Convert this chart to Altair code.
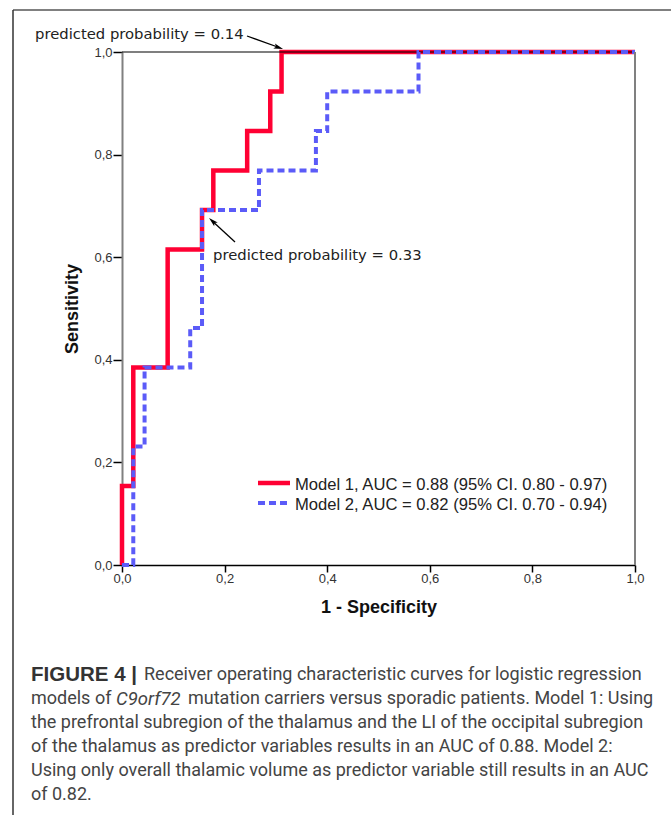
import altair as alt
import pandas as pd

# ROC points (1 - specificity, sensitivity), vertical step after each point
model1_fpr = [0.0, 0.0, 0.022, 0.089, 0.156, 0.178, 0.244, 0.289, 0.311, 1.0]
model1_tpr = [0.0, 0.154, 0.385, 0.615, 0.692, 0.769, 0.846, 0.923, 1.0, 1.0]
model2_fpr = [0.0, 0.022, 0.044, 0.133, 0.156, 0.267, 0.378, 0.400, 0.578, 1.0]
model2_tpr = [0.0, 0.231, 0.385, 0.462, 0.692, 0.769, 0.846, 0.923, 1.0, 1.0]

legend_labels = ["Model 1, AUC = 0.88 (95% CI. 0.80 - 0.97)",
                 "Model 2, AUC = 0.82 (95% CI. 0.70 - 0.94)"]
annot_labels = ["predicted probability = 0.14", "predicted probability = 0.33"]
tick_values = [0.0, 0.2, 0.4, 0.6, 0.8, 1.0]

caption_bold = "FIGURE 4 |"
caption_line1 = "Receiver operating characteristic curves for logistic regression"
caption_line2a = "models of"
caption_line2_it = "C9orf72"
caption_line2b = "mutation carriers versus sporadic patients. Model 1: Using"
caption_rest = [
    "the prefrontal subregion of the thalamus and the LI of the occipital subregion",
    "of the thalamus as predictor variables results in an AUC of 0.88. Model 2:",
    "Using only overall thalamic volume as predictor variable still results in an AUC",
    "of 0.82.",
]

RED = "#FF0033"
BLUE = "#5B5BF8"

df1 = pd.DataFrame({"fpr": model1_fpr, "tpr": model1_tpr, "i": range(len(model1_fpr))})
df2 = pd.DataFrame({"fpr": model2_fpr, "tpr": model2_tpr, "i": range(len(model2_fpr))})

label_expr = "replace(format(datum.value, '.1f'), '.', ',')"
xenc = alt.X("fpr:Q", scale=alt.Scale(domain=[0, 1], nice=False, zero=False),
             axis=alt.Axis(values=tick_values, labelExpr=label_expr, title="1 - Specificity",
                           labelFlush=False, labelOverlap=False,
                           domainColor="#000000", domainWidth=1.5, tickColor="#000000",
                           tickSize=7, tickWidth=1.5, labelPadding=0, titlePadding=13))
yenc = alt.Y("tpr:Q", scale=alt.Scale(domain=[0, 1], nice=False, zero=False),
             axis=alt.Axis(values=tick_values, labelExpr=label_expr, title="Sensitivity",
                           labelFlush=False, labelOverlap=False,
                           domainColor="#808080", domainWidth=2, tickColor="#000000",
                           tickSize=9, tickWidth=1.5, labelPadding=1, titlePadding=12))

red_line = alt.Chart(df1).mark_line(color=RED, strokeWidth=4.5, interpolate="step-after",
                                    clip=False).encode(x=xenc, y=yenc, order="i:Q")
blue_line = alt.Chart(df2).mark_line(color=BLUE, strokeWidth=4, strokeDash=[7, 4],
                                     interpolate="step-after", clip=False).encode(
    x="fpr:Q", y="tpr:Q", order="i:Q")

one = pd.DataFrame({"k": [0]})

def rule(x, y, x2=None, y2=None, color="#000", width=1.0, dash=None):
    kw = dict(color=color, strokeWidth=width)
    if dash:
        kw["strokeDash"] = dash
    enc = dict(x=alt.value(x), y=alt.value(y))
    if x2 is not None:
        enc["x2"] = alt.value(x2)
    if y2 is not None:
        enc["y2"] = alt.value(y2)
    return alt.Chart(one).mark_rule(**kw).encode(**enc)

def text(s, x, y, size, font="Liberation Sans", weight="normal", style="normal",
         color="#222222", baseline="middle"):
    return alt.Chart(pd.DataFrame({"t": [s]})).mark_text(
        align="left", baseline=baseline, fontSize=size, font=font, fontWeight=weight,
        fontStyle=style, color=color).encode(x=alt.value(x), y=alt.value(y), text="t:N")

def head(x, y, angle):
    return alt.Chart(one).mark_point(shape="M0,-1L0.55,1L0,0.55L-0.55,1Z", filled=True,
                                     size=90, color="#000000", opacity=1,
                                     angle=angle).encode(x=alt.value(x), y=alt.value(y))

frame_top = rule(0, 0, x2=513, color="#000000", width=1.2)
frame_right = rule(513, 0, y2=513, color="#808080", width=2)

# legend
leg = [
    rule(136, 431, x2=168, color=RED, width=4.5),
    rule(136, 451, x2=168, color=BLUE, width=4, dash=[7, 4]),
    text(legend_labels[0], 173, 433, 16.6),
    text(legend_labels[1], 173, 453, 16.6),
]

# annotations
ann = [
    text(annot_labels[0], -87, -17, 14.8, font="DejaVu Sans"),
    rule(125, -16, x2=157, y2=-4.5, color="#000000", width=1.3),
    head(156.6, -4.5, 109),
    text(annot_labels[1], 91, 204, 14.8, font="DejaVu Sans"),
    rule(113, 190, x2=90.5, y2=169.2, color="#000000", width=1.3),
    head(90.5, 169.2, 313),
]

# page borders
borders = [
    rule(-109, -42, x2=549, color="#808080", width=2),
    rule(-109, -42, y2=763, color="#333333", width=1.5),
]

cap_font = "Roboto"
cap_size = 18
cap_color = "#444444"
cap_y = [623, 647, 671, 695, 719, 743]
caption = [
    text(caption_bold, -91, cap_y[0], 20.5, font="Liberation Sans", weight="bold",
         color="#333333"),
    text(caption_line1, 22, cap_y[0], cap_size, font=cap_font, color=cap_color),
    text(caption_line2a, -91, cap_y[1], cap_size, font=cap_font, color=cap_color),
    text(caption_line2_it, -6, cap_y[1], cap_size + 0.5, font=cap_font, style="italic",
         color=cap_color),
    text(caption_line2b, 66, cap_y[1], cap_size, font=cap_font, color=cap_color),
]
for j, s in enumerate(caption_rest):
    caption.append(text(s, -91, cap_y[j + 2], cap_size, font=cap_font, color=cap_color))

chart = alt.layer(red_line, frame_top, blue_line, frame_right, *leg, *ann, *borders,
                  *caption).properties(
    width=513, height=513,
    autosize=alt.AutoSizeParams(type="none"),
    padding={"left": 122, "top": 52, "right": 36, "bottom": 250},
    background="white",
).configure_view(stroke=None).configure_axis(
    grid=False, labelFont="Liberation Sans", labelFontSize=13, labelColor="#333333",
    titleFont="Liberation Sans", titleFontSize=18, titleFontWeight="bold", titleColor="#111111",
)

chart.save("out.html", embed_options={"renderer": "svg", "actions": False})
